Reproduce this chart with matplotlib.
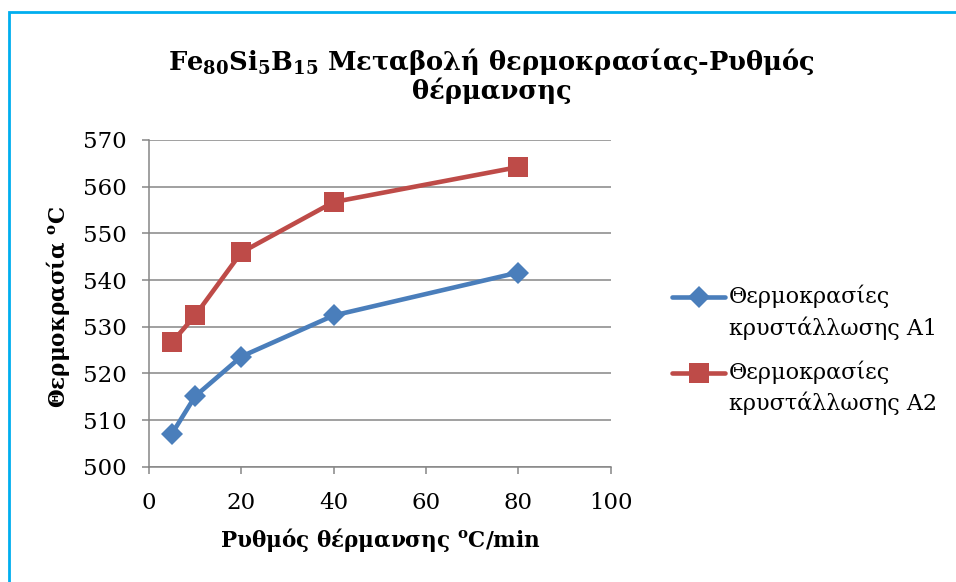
import numpy as np
import matplotlib
matplotlib.use("Agg")
import matplotlib.pyplot as plt
from matplotlib.patches import Rectangle
from matplotlib.legend_handler import HandlerLine2D

# ---- data ----
rates = [5, 10, 20, 40, 80]
temps_a1 = [507.1, 515.1, 523.6, 532.4, 541.6]
temps_a2 = [526.7, 532.4, 545.9, 556.7, 564.2]
label_a1 = "Θερμοκρασίες\nκρυστάλλωσης Α1"
label_a2 = "Θερμοκρασίες\nκρυστάλλωσης Α2"
x_ticks = [0, 20, 40, 60, 80, 100]
y_ticks = [500, 510, 520, 530, 540, 550, 560, 570]
title = "Fe$_{80}$Si$_{5}$B$_{15}$ Μεταβολή θερμοκρασίας-Ρυθμός\nθέρμανσης"
xlabel = "Ρυθμός θέρμανσης $^{\\mathrm{o}}$C/min"
ylabel = "Θερμοκρασία $^{\\mathrm{o}}$C"

FONT = "DejaVu Serif"
plt.rcParams["font.family"] = [FONT, "DejaVu Sans"]
plt.rcParams["mathtext.fontset"] = "custom"
plt.rcParams["mathtext.rm"] = FONT + ":bold"
plt.rcParams["mathtext.bf"] = FONT + ":bold"
plt.rcParams["mathtext.default"] = "bf"

W, H = 956, 582
fig = plt.figure(figsize=(W / 100, H / 100), dpi=100)
fig.patch.set_facecolor("white")

# chart border (light blue)
fig.patches.append(Rectangle((8.5 / W, -0.5), 3.0, 1.5 - 11.5 / H,
                             transform=fig.transFigure, fill=False,
                             edgecolor="#00AEEF", linewidth=2.0))

ax_l, ax_r, ax_t, ax_b = 149, 610.5, 140, 466.7
ax = fig.add_axes([ax_l / W, 1 - ax_b / H, (ax_r - ax_l) / W, (ax_b - ax_t) / H])

blue = "#4A7EBB"
red = "#BE4B48"
grid = "#868686"

ax.plot(rates, temps_a1, color=blue, lw=3.3, marker="D", ms=11.0,
        mec=blue, mew=0, label=label_a1, solid_capstyle="round")
ax.plot(rates, temps_a2, color=red, lw=3.3, marker="s", ms=14.0,
        mec=red, mew=0, label=label_a2, solid_capstyle="round")

ax.set_xlim(0, 100)
ax.set_ylim(500, 570)
ax.set_xticks(x_ticks)
ax.set_yticks(y_ticks)
ax.grid(axis="y", color=grid, lw=1.1)
ax.set_axisbelow(True)
for s in ["top", "right"]:
    ax.spines[s].set_visible(False)
for s in ["left", "bottom"]:
    ax.spines[s].set_color(grid)
    ax.spines[s].set_linewidth(1.1)
ax.tick_params(axis="both", colors=grid, length=5, width=1.1, direction="out",
               labelsize=16.5, labelcolor="black")
ax.tick_params(axis="y", pad=11)
ax.tick_params(axis="x", pad=13)

fig.text(380 / W, 1 - 540 / H, xlabel, ha="center", va="center",
         fontsize=15.5, fontweight="bold")
fig.text(58 / W, 1 - 307 / H, ylabel, ha="center", va="center",
         rotation=90, fontsize=15.5, fontweight="bold")
fig.text(492 / W, 1 - 75 / H, title, ha="center", va="center",
         fontsize=18.5, fontweight="bold", linespacing=1.05)

LEG_FS = 16
LEG_LS = 1.45


class UpHandler(HandlerLine2D):
    def create_artists(self, legend, orig_handle, xdescent, ydescent,
                       width, height, fontsize, trans):
        arts = super().create_artists(legend, orig_handle, xdescent, ydescent,
                                      width, height, fontsize, trans)
        for a in arts:
            a.set_ydata(np.asarray(a.get_ydata()) + 0.5 * LEG_LS * 0.97 * fontsize)
        return arts


h = UpHandler(numpoints=1)
leg = fig.legend(loc="center left", bbox_to_anchor=(672 / W, 1 - 350 / H),
                 frameon=False, fontsize=LEG_FS, handlelength=2.4,
                 handletextpad=0.15, labelspacing=0.92, borderpad=0,
                 borderaxespad=0,
                 handler_map={ax.lines[0]: h, ax.lines[1]: h})
for t in leg.get_texts():
    t.set_linespacing(LEG_LS)

fig.savefig("out.png", dpi=100, facecolor="white")
